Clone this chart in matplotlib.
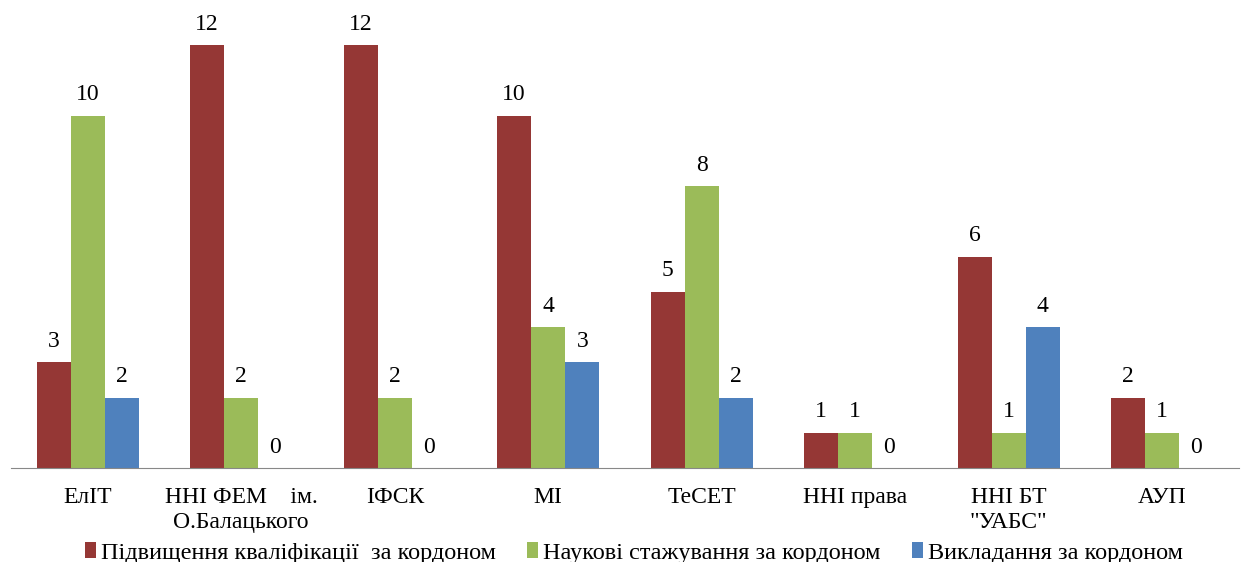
import numpy as np
import matplotlib.pyplot as plt

categories = ['ЕлІТ', 'ННІ ФЕМ    ім.\nО.Балацького', 'ІФСК', 'МІ', 'ТеСЕТ',
              'ННІ права', 'ННІ БТ\n"УАБС"', 'АУП']
qualification = [3, 12, 12, 10, 5, 1, 6, 2]
internships = [10, 2, 2, 4, 8, 1, 1, 1]
teaching = [2, 0, 0, 3, 2, 0, 4, 0]
series_names = ['Підвищення кваліфікації  за кордоном',
                'Наукові стажування за кордоном',
                'Викладання за кордоном']

plt.rcParams['font.family'] = ['Liberation Serif', 'DejaVu Serif']

fig = plt.figure(figsize=(12.48, 5.62), dpi=100)
ax = fig.add_axes([11 / 1248, 1 - 468 / 562, 1228 / 1248, 458 / 562])

x = np.arange(len(categories))
width = 0.222
colors = ['#953735', '#9BBB59', '#4F81BD']
values = [qualification, internships, teaching]
for i, (vals, col, name) in enumerate(zip(values, colors, series_names)):
    bars = ax.bar(x + (i - 1) * width, vals, width, color=col, label=name)
    ax.bar_label(bars, padding=7.5, fontsize=17)

ax.set_xlim(-0.5, len(categories) - 0.5)
ax.set_ylim(0, 13)
ax.set_yticks([])
ax.set_xticks(x, categories, fontsize=17)
ax.tick_params(axis='x', length=0, pad=14)
for s in ['top', 'right', 'left']:
    ax.spines[s].set_visible(False)
ax.spines['bottom'].set_color('#888888')

fig.legend(loc='lower center', bbox_to_anchor=(0.508, -0.042), ncol=3, frameon=False,
           handlelength=0.45, handleheight=0.6, handletextpad=0.2, columnspacing=1.3,
           prop={'size': 17.5})

fig.savefig('out.png', dpi=100)
